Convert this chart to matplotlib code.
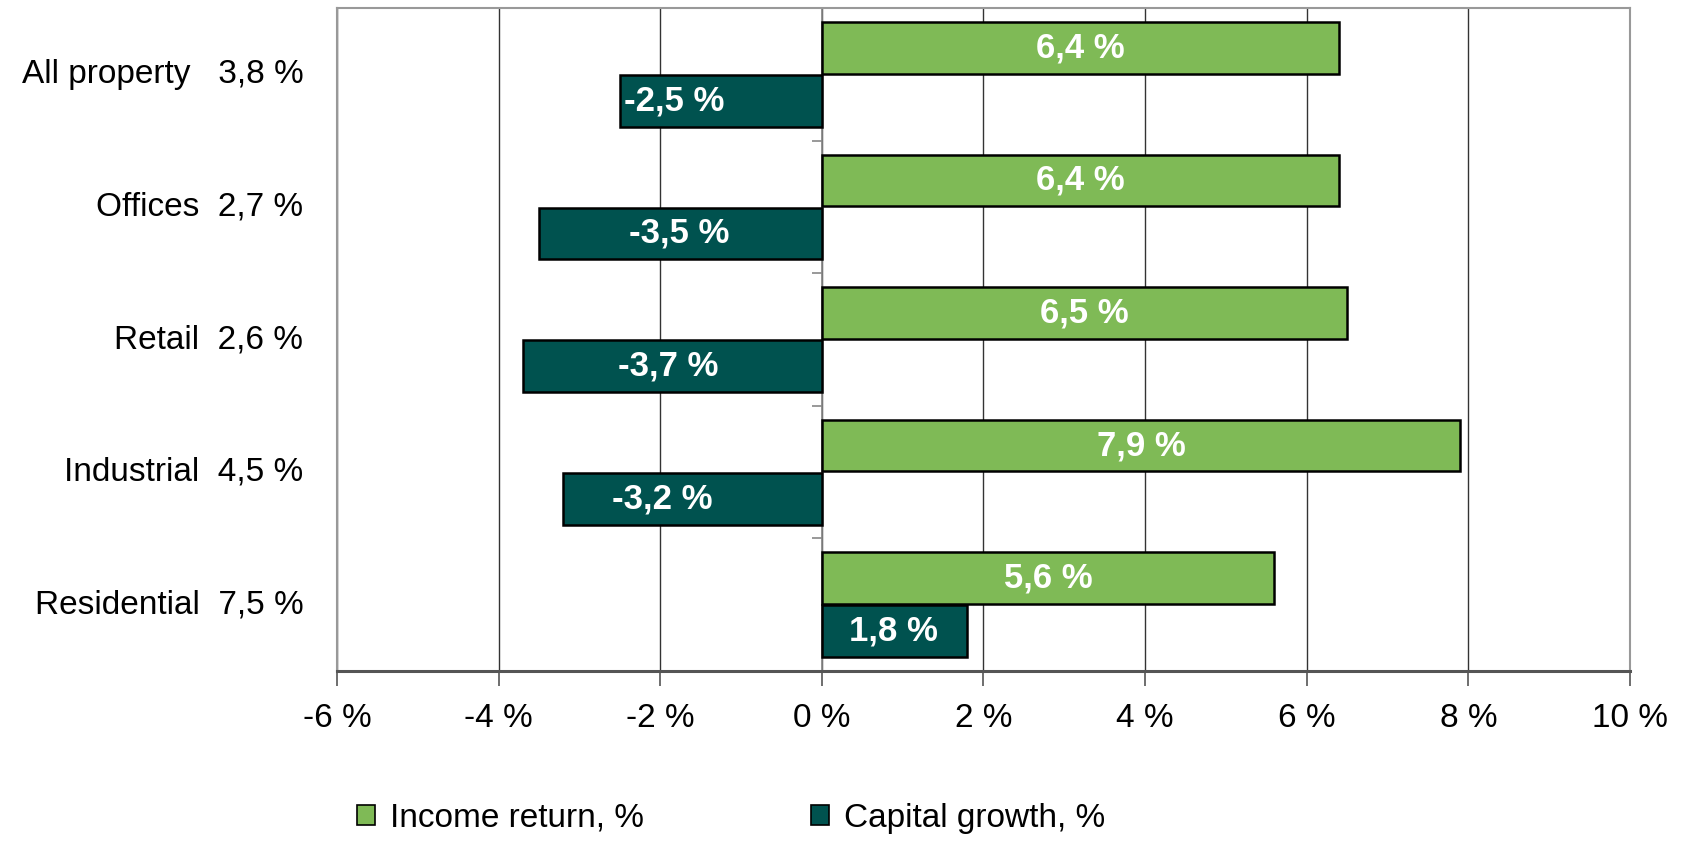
import matplotlib
matplotlib.use("Agg")
from matplotlib import pyplot as plt
from matplotlib import transforms
from matplotlib.patches import Patch
import numpy as np

# data
categories = ['All property', 'Offices', 'Retail', 'Industrial', 'Residential']
totals = [3.8, 2.7, 2.6, 4.5, 7.5]
income_return = [6.4, 6.4, 6.5, 7.9, 5.6]
capital_growth = [-2.5, -3.5, -3.7, -3.2, 1.8]
x_ticks = [-6, -4, -2, 0, 2, 4, 6, 8, 10]

# label spacing between name and total, as in the source
gaps = ['   ', '  ', '  ', '  ', '  ']
# where the capital growth labels sit (moved by hand in the source)
capital_label_x = [-1.83, -1.77, -1.90, -1.98, 0.88]

green = '#7fba56'
teal = '#00524f'
plt.rcParams['font.family'] = ['Liberation Sans Narrow', 'Liberation Sans', 'DejaVu Sans']
fs = 24


def fmt(v):
    return f'{v:.1f} %'.replace('.', ',')


fig = plt.figure(figsize=(16.84, 8.41), dpi=100)
ax = fig.add_axes([0.2001, 0.2021, 0.7678, 0.7884])

y = np.arange(len(categories))
h = 0.39
ax.barh(y - 0.2, income_return, height=h, color=green, edgecolor='black', linewidth=1.8, zorder=3)
ax.barh(y + 0.2, capital_growth, height=h, color=teal, edgecolor='black', linewidth=1.8, zorder=3)

for i, v in enumerate(income_return):
    ax.text(v / 2, y[i] - 0.2, fmt(v), ha='center', va='center', color='white',
            fontsize=fs + 1, fontweight='bold', zorder=4)
for i, v in enumerate(capital_growth):
    ax.text(capital_label_x[i], y[i] + 0.2, fmt(v), ha='center', va='center', color='white',
            fontsize=fs + 1, fontweight='bold', zorder=4)

ax.set_xlim(-6, 10)
ax.set_ylim(4.5, -0.5)
ax.set_xticks(x_ticks)
ax.set_xticklabels([f'{t} %' for t in x_ticks], fontsize=fs)
ax.tick_params(axis='x', length=11, width=1.2, color='#555555', pad=12)
ax.xaxis.grid(True, color='#333333', linewidth=1.0, zorder=0)
ax.set_axisbelow(True)

# category axis crosses at zero
ax.spines['left'].set_position(('data', 0))
ax.spines['left'].set_color('#888888')
ax.spines['left'].set_linewidth(1.2)
ax.set_yticks([])
ax.set_yticks(np.arange(-0.5, 5, 1.0), minor=True)
ax.tick_params(axis='y', which='minor', length=7, width=1.2, color='#888888', direction='out')
ax.yaxis.set_tick_params(which='minor', labelleft=False)

for s in ['top', 'right']:
    ax.spines[s].set_color('#999999')
    ax.spines[s].set_linewidth(1.5)
ax.spines['bottom'].set_color('#555555')
ax.spines['bottom'].set_linewidth(2.2)
ax.axvline(-6, color='#999999', linewidth=1.5, clip_on=False, zorder=1)

trans = transforms.blended_transform_factory(ax.transAxes, ax.transData)
for i, c in enumerate(categories):
    ax.text(-0.026, y[i], c + gaps[i] + fmt(totals[i]), transform=trans,
            ha='right', va='center', fontsize=fs)

handles = [Patch(facecolor=green, edgecolor='black', linewidth=1.2, label='Income return, %'),
           Patch(facecolor=teal, edgecolor='black', linewidth=1.2, label='Capital growth, %')]
fig.legend(handles=handles, loc='center', bbox_to_anchor=(0.434, 0.027), ncol=2,
           frameon=False, fontsize=fs, handlelength=0.55, handleheight=0.55,
           handletextpad=0.45, columnspacing=5.0, borderpad=0)

fig.savefig('out.png', dpi=100)
